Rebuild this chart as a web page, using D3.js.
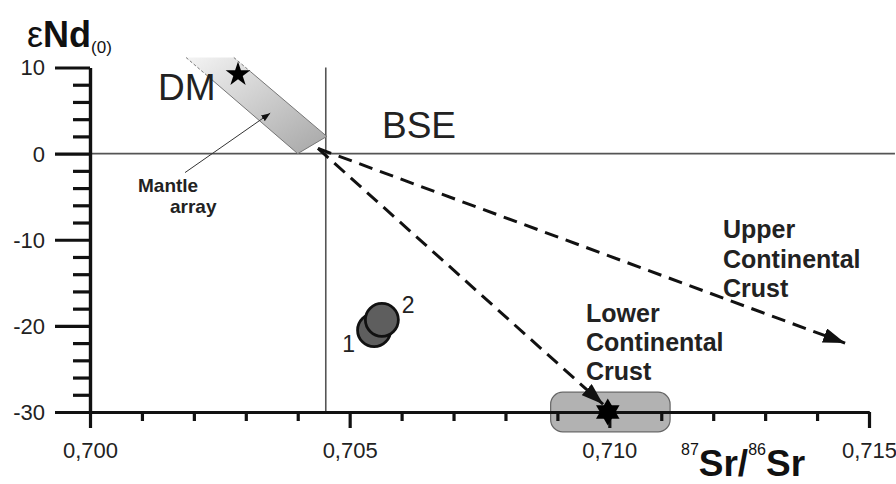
<!DOCTYPE html>
<html><head><meta charset="utf-8">
<script src="https://cdn.jsdelivr.net/npm/d3@7"></script>
<style>
html,body{margin:0;padding:0;background:#fff;}
svg{display:block;font-family:"Liberation Sans",Arial,Helvetica,sans-serif;}
</style></head><body>
<svg id="chart" width="896" height="484"></svg>
<script>
// Axis ticks
const xTicks = [0.700, 0.705, 0.710, 0.715];
const xMinorTicks = [0.701, 0.702, 0.703, 0.704, 0.706, 0.707, 0.708, 0.709, 0.711, 0.712, 0.713, 0.714];
const yTicks = [10, 0, -10, -20, -30];
const yMinorTicks = [8, 6, 4, 2, -2, -4, -6, -8, -12, -14, -16, -18, -22, -24, -26, -28];

// Samples: 87Sr/86Sr and εNd(0)
const sampleIds = ["1", "2"];
const sampleSr = [0.70547, 0.70562];
const sampleNd = [-20.5, -19.3];

// Reservoirs
const dmPoint = [0.70285, 9.2];
const bsePoint = [0.70454, 0];
const lccPoint = [0.70997, -30];
const lccField = [[0.70887, -27.7], [0.71117, -32.3]];
const mantleArray = [[0.70185, 11.16], [0.70277, 11.16], [0.70456, 2.0], [0.70400, 0.0]];
const mantleLabelArrow = [[0.70183, -2.2], [0.70347, 4.7]];

// Trends from BSE toward lower and upper continental crust
const trendStart = [0.70439, 0.6];
const trendEnds = [[0.70988, -29.1], [0.71454, -22.0]];

const svg = d3.select("#chart");
const x = d3.scaleLinear().domain([0.700, 0.715]).range([90, 869]);
const y = d3.scaleLinear().domain([-30, 10]).range([412, 67.5]);
const fmt = d3.formatLocale({decimal: ",", thousands: ".", grouping: [3], currency: ["", ""]}).format(".3f");

const defs = svg.append("defs");
const grad = defs.append("linearGradient").attr("id", "mantleGrad")
  .attr("x1", 0).attr("y1", 0).attr("x2", 1).attr("y2", 1);
grad.append("stop").attr("offset", 0).attr("stop-color", "#f4f4f4");
grad.append("stop").attr("offset", 0.3).attr("stop-color", "#dcdcdc");
grad.append("stop").attr("offset", 1).attr("stop-color", "#a6a6a6");

function arrowMarker(id, len, wid) {
  defs.append("marker").attr("id", id)
    .attr("markerUnits", "userSpaceOnUse")
    .attr("viewBox", `0 0 ${len} ${wid}`)
    .attr("markerWidth", len).attr("markerHeight", wid)
    .attr("refX", len).attr("refY", wid / 2)
    .attr("orient", "auto")
    .append("path").attr("d", `M0,0L${len},${wid / 2}L0,${wid}Z`).attr("fill", "#111");
}
arrowMarker("bigArrow", 22, 15);
arrowMarker("smallArrow", 9, 7);

// BSE reference lines
svg.append("line")
  .attr("x1", x(0.700)).attr("x2", x(0.7155))
  .attr("y1", y(bsePoint[1])).attr("y2", y(bsePoint[1]))
  .attr("stroke", "#555").attr("stroke-width", 1.6);
svg.append("line")
  .attr("x1", x(bsePoint[0])).attr("x2", x(bsePoint[0]))
  .attr("y1", y(10)).attr("y2", y(-30))
  .attr("stroke", "#555").attr("stroke-width", 1.6);

// Mantle array band
const mPts = mantleArray.map(d => [x(d[0]), y(d[1])]);
svg.append("path")
  .attr("d", d3.line()(mPts) + "Z")
  .attr("fill", "url(#mantleGrad)").attr("stroke", "none");
function edge(a, b) {
  // dashed near the top, solid below
  const t = 0.18;
  const m = [a[0] + (b[0] - a[0]) * t, a[1] + (b[1] - a[1]) * t];
  svg.append("line").attr("x1", a[0]).attr("y1", a[1]).attr("x2", m[0]).attr("y2", m[1])
    .attr("stroke", "#777").attr("stroke-width", 1).attr("stroke-dasharray", "3,2");
  svg.append("line").attr("x1", m[0]).attr("y1", m[1]).attr("x2", b[0]).attr("y2", b[1])
    .attr("stroke", "#777").attr("stroke-width", 1);
}
edge(mPts[0], mPts[3]);
edge(mPts[1], mPts[2]);
svg.append("line").attr("x1", mPts[2][0]).attr("y1", mPts[2][1]).attr("x2", mPts[3][0]).attr("y2", mPts[3][1])
  .attr("stroke", "#777").attr("stroke-width", 1);

// Lower continental crust field
svg.append("rect")
  .attr("x", x(lccField[0][0])).attr("y", y(lccField[0][1]))
  .attr("width", x(lccField[1][0]) - x(lccField[0][0]))
  .attr("height", y(lccField[1][1]) - y(lccField[0][1]))
  .attr("rx", 12).attr("ry", 12)
  .attr("fill", "#b2b2b2").attr("stroke", "#666").attr("stroke-width", 1.2);

// Axes
const axStyle = g => {
  g.selectAll(".domain").attr("stroke", "#111").attr("stroke-width", 3.2);
  g.selectAll(".tick line").attr("stroke", "#111").attr("stroke-width", 3.2);
  g.selectAll("text").attr("fill", "#222").attr("font-size", 22).attr("font-family", "\"Liberation Sans\",Arial,sans-serif");
};
svg.append("g").attr("transform", `translate(${x(0.700)},0)`)
  .call(d3.axisLeft(y).tickValues(yMinorTicks).tickSize(17).tickSizeOuter(0).tickFormat(""))
  .call(axStyle);
svg.append("g").attr("transform", `translate(${x(0.700)},0)`)
  .call(d3.axisLeft(y).tickValues(yTicks).tickSize(35).tickSizeOuter(0).tickPadding(10).tickFormat(d => d))
  .call(axStyle)
  .call(g => g.selectAll("text").attr("dy", "0.34em"));
svg.append("g").attr("transform", `translate(0,${y(-30)})`)
  .call(d3.axisBottom(x).tickValues(xMinorTicks).tickSize(9).tickSizeOuter(0).tickFormat(""))
  .call(axStyle);
svg.append("g").attr("transform", `translate(0,${y(-30)})`)
  .call(d3.axisBottom(x).tickValues(xTicks).tickSize(16).tickSizeOuter(0).tickPadding(14).tickFormat(fmt))
  .call(axStyle);

// Dashed trends
trendEnds.forEach(e => {
  svg.append("line")
    .attr("x1", x(trendStart[0])).attr("y1", y(trendStart[1]))
    .attr("x2", x(e[0])).attr("y2", y(e[1]))
    .attr("stroke", "#111").attr("stroke-width", 3)
    .attr("stroke-dasharray", "14,8")
    .attr("marker-end", "url(#bigArrow)");
});

// Mantle array pointer
svg.append("line")
  .attr("x1", x(mantleLabelArrow[0][0])).attr("y1", y(mantleLabelArrow[0][1]))
  .attr("x2", x(mantleLabelArrow[1][0])).attr("y2", y(mantleLabelArrow[1][1]))
  .attr("stroke", "#333").attr("stroke-width", 1)
  .attr("marker-end", "url(#smallArrow)");

// DM star
svg.append("path")
  .attr("transform", `translate(${x(dmPoint[0])},${y(dmPoint[1])})`)
  .attr("d", d3.symbol(d3.symbolStar, 190)())
  .attr("fill", "#000");

// Lower crust hexagram
const tri = d3.symbol(d3.symbolTriangle, 240)();
[0, 180].forEach(r => {
  svg.append("path")
    .attr("transform", `translate(${x(lccPoint[0])},${y(lccPoint[1])}) rotate(${r})`)
    .attr("d", tri).attr("fill", "#000");
});

// Samples
const samples = sampleIds.map((id, i) => ({id, sr: sampleSr[i], nd: sampleNd[i]}));
svg.selectAll("circle.sample").data(samples).join("circle")
  .attr("class", "sample")
  .attr("cx", d => x(d.sr)).attr("cy", d => y(d.nd)).attr("r", 16.5)
  .attr("fill", "#5e5e5e").attr("stroke", "#111").attr("stroke-width", 2.8);
svg.append("text").attr("x", x(samples[0].sr) - 19).attr("y", y(samples[0].nd) + 22)
  .attr("text-anchor", "end").attr("font-size", 23).attr("fill", "#222").text(samples[0].id);
svg.append("text").attr("x", x(samples[1].sr) + 20).attr("y", y(samples[1].nd) - 7)
  .attr("font-size", 23).attr("fill", "#222").text(samples[1].id);

// Reservoir labels
svg.append("text").attr("x", x(dmPoint[0]) - 80).attr("y", y(dmPoint[1]) + 26)
  .attr("font-size", 37).attr("fill", "#222").text("DM");
svg.append("text").attr("x", 382).attr("y", 138)
  .attr("font-size", 37).attr("fill", "#222").text("BSE");
svg.append("text").attr("x", 138).attr("y", 192)
  .attr("font-size", 19).attr("font-weight", "bold").attr("fill", "#222").text("Mantle");
svg.append("text").attr("x", 170).attr("y", 213)
  .attr("font-size", 19).attr("font-weight", "bold").attr("fill", "#222").text("array");

function block(lines, x0, y0, dy) {
  const t = svg.append("text").attr("font-size", 25).attr("font-weight", "bold").attr("fill", "#222");
  lines.forEach((s, i) => t.append("tspan").attr("x", x0).attr("y", y0 + i * dy).text(s));
}
block(["Lower", "Continental", "Crust"], 586, 322, 29);
block(["Upper", "Continental", "Crust"], 723, 238, 29.5);

// Axis titles
const yt = svg.append("text").attr("x", 27).attr("y", 47).attr("fill", "#111");
yt.append("tspan").attr("font-size", 36).text("ε");
yt.append("tspan").attr("font-size", 36).attr("font-weight", "bold").text("Nd");
yt.append("tspan").attr("font-size", 17).attr("dy", 6).text("(0)");

const xt = svg.append("text").attr("x", 681).attr("y", 476).attr("fill", "#111");
xt.append("tspan").attr("font-size", 16).attr("dy", -21).text("87");
xt.append("tspan").attr("font-size", 37).attr("font-weight", "bold").attr("dy", 21).text("Sr/");
xt.append("tspan").attr("font-size", 16).attr("dy", -21).text("86");
xt.append("tspan").attr("font-size", 37).attr("font-weight", "bold").attr("dy", 21).text("Sr");
</script>
</body></html>
